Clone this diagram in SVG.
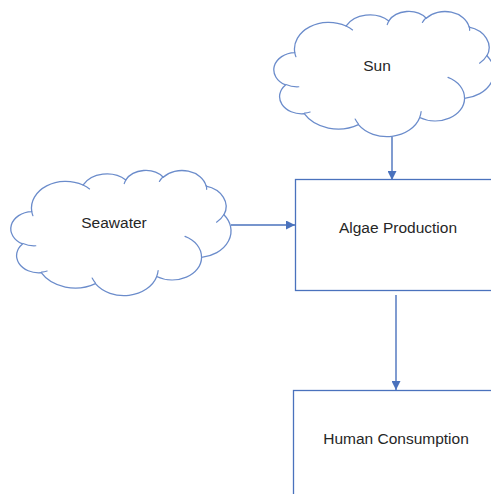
<svg xmlns="http://www.w3.org/2000/svg" width="491" height="494" viewBox="0 0 491 494">
  <style>
    .cloud { fill: #ffffff; stroke: #6b8ccb; stroke-width: 1.3; stroke-linejoin: round; vector-effect: non-scaling-stroke; }
    .cloud-fold { fill: none; stroke: #6b8ccb; stroke-width: 1.2; stroke-linecap: round; vector-effect: non-scaling-stroke; }
    .box { fill: #ffffff; stroke: #4a72bd; stroke-width: 1.3; }
    .label { font-family: "Liberation Sans", Arial, sans-serif; font-size: 15.5px; fill: #262626; text-anchor: middle; }
    .link { stroke: #4a72bd; stroke-width: 1.4; fill: none; }
  </style>
  <defs>
    <marker id="arrow" viewBox="0 0 10 10" refX="10" refY="5" markerWidth="9" markerHeight="9" markerUnits="userSpaceOnUse" orient="auto">
      <path d="M0,0 L10,5 L0,10 Z" fill="#4a72bd"/>
    </marker>
    <!-- cloud outline in a 43200 x 43200 unit box, with its inner fold arcs -->
    <g id="cloudShape">
      <path class="cloud" d="M3900,14370
        A6753,9190 0 0 1 14000,5192
        A5333,7267 0 0 1 22457,3435
        A4365,5945 0 0 1 29836,2485
        A4857,6595 0 0 1 38303,5577
        A5333,7273 0 0 1 41810,15466
        A6775,9220 0 0 1 37396,30205
        A5785,7867 0 0 1 28555,36813
        A6752,9215 0 0 1 16456,39266
        A7720,10543 0 0 1 5761,35476
        A4360,5918 0 0 1 2075,25561
        A4345,5945 0 0 1 3900,14370 Z"/>
      <path class="cloud-fold" d="M4693,26177 A4345,5945 0 0 1 2160,25380
        M6928,34899 A4360,5918 0 0 1 5819,35281
        M16478,39090 A6752,9215 0 0 1 15810,37349
        M28827,34751 A6752,9215 0 0 1 28560,36660
        M34129,22954 A5785,7867 0 0 1 37380,30089
        M41798,15354 A5333,7273 0 0 1 40351,18029
        M38324,5426 A4857,6595 0 0 1 38401,6689
        M29078,3952 A4857,6595 0 0 1 29820,2339
        M22141,4720 A4365,5945 0 0 1 22500,3328
        M14000,5192 A6753,9190 0 0 1 15302,6543
        M4127,15789 A6753,9190 0 0 1 3900,14369"/>
    </g>
  </defs>

  <g id="connectors">
    <line class="link" x1="392" y1="137" x2="392" y2="180" marker-end="url(#arrow)"/>
    <line class="link" x1="231" y1="225" x2="295" y2="225" marker-end="url(#arrow)"/>
    <line class="link" x1="396" y1="295" x2="396" y2="390" marker-end="url(#arrow)"/>
  </g>

  <g id="sun">
    <use href="#cloudShape" transform="translate(275,11) scale(0.005069,0.002894)"/>
    <text class="label" x="377" y="71">Sun</text>
  </g>

  <g id="seawater">
    <use href="#cloudShape" transform="translate(12,170) scale(0.005069,0.002894)"/>
    <text class="label" x="114" y="228">Seawater</text>
  </g>

  <g id="algae-production">
    <rect class="box" x="295.5" y="179.5" width="210" height="111"/>
    <text class="label" x="398" y="233">Algae Production</text>
  </g>

  <g id="human-consumption">
    <rect class="box" x="293.5" y="390.5" width="210" height="120"/>
    <text class="label" x="396" y="444">Human Consumption</text>
  </g>
</svg>
